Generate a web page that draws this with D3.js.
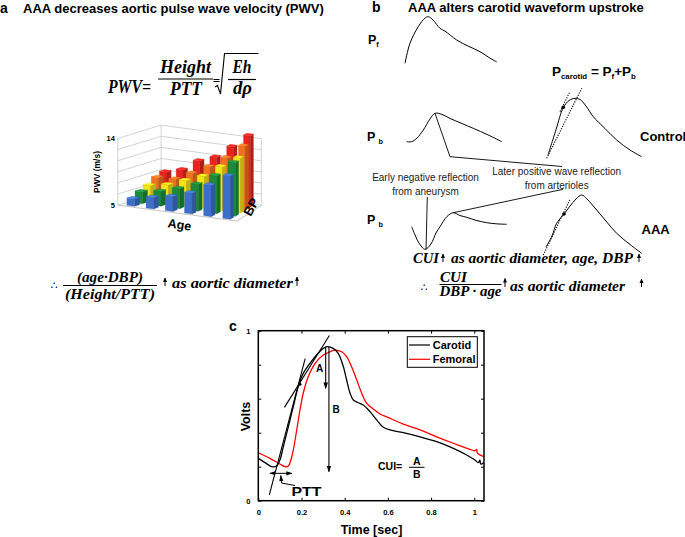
<!DOCTYPE html>
<html><head><meta charset="utf-8">
<script src="https://cdn.jsdelivr.net/npm/d3@7"></script>
<style>body{margin:0;background:#fff}svg{display:block}</style>
</head><body><svg id="fig" width="685" height="537"></svg>
<script>
// ---------------- DATA ----------------
// Panel c: carotid and femoral waveforms (time in s, volts)
const carotidTime  = [0,0.031,0.062,0.085,0.1,0.116,0.139,0.162,0.185,0.208,0.239,0.27,0.301,0.319,0.347,0.37,0.394,0.409,0.425,0.44,0.463,0.486,0.517,0.548,0.579,0.61,0.671,0.749,0.826,0.903,0.965,1.003,1.019,1.026,1.03,1.045];
const carotidVolts = [0.249,0.224,0.2,0.204,0.239,0.318,0.435,0.553,0.671,0.749,0.808,0.857,0.896,0.906,0.896,0.867,0.788,0.71,0.632,0.592,0.576,0.563,0.524,0.475,0.432,0.416,0.4,0.376,0.347,0.308,0.269,0.239,0.224,0.239,0.216,0.224];
const femoralTime  = [0,0.054,0.1,0.124,0.139,0.151,0.162,0.178,0.193,0.208,0.231,0.263,0.301,0.332,0.355,0.386,0.409,0.432,0.456,0.479,0.502,0.532,0.563,0.6,0.671,0.749,0.826,0.903,0.98,1.003,1.011,1.014,1.045];
const femoralVolts = [0.282,0.249,0.216,0.2,0.204,0.239,0.298,0.416,0.534,0.632,0.729,0.808,0.857,0.876,0.886,0.876,0.847,0.788,0.71,0.632,0.573,0.54,0.51,0.49,0.451,0.416,0.376,0.338,0.302,0.294,0.302,0.282,0.259];
const xTicks = [0,0.2,0.4,0.6,0.8,1];
const yTicks = [0,0.2,0.4,0.6,0.8,1];
const yTickLabels = ["0","","","","","1"];
const tangentTime  = [[0.051,0.217],[0.121,0.329]];
const tangentVolts = [[0.034,0.836],[0.549,0.972]];
const arrowA = {t:0.312, from:0.906, to:0.661};
const arrowB = {t:0.327, from:0.906, to:0.171};
const pttRange = [0.054,0.155], pttLevel = 0.161;

// Panel a: 3D bars, PWV (m/s) by age group (columns) and BP level (rows)
const ageGroups = [1,2,3,4,5,6];
const bpLevels = [1,2,3,4,5];
const pwvBP1 = [6.0,6.5,7.0,7.8,9.2,10.8];
const pwvBP2 = [6.6,7.0,7.7,8.6,10.1,12.2];
const pwvBP3 = [7.1,7.5,8.4,9.3,10.9,12.4];
const pwvBP4 = [7.8,7.9,9.0,10.2,11.7,13.6];
const pwvBP5 = [8.2,8.8,10.3,11.1,12.8,14.6];
const bpColors = ["#3d6fc8","#1b8a3c","#f3e31b","#f07122","#e6241d"];
const pwvGrid = [5,6.5,8,9.5,11,12.5,14];

// Panel b: schematic waveforms (normalised time, normalised amplitude)
const pfT = [0,0.054,0.145,0.217,0.253,0.304,0.38,0.435,0.562,0.685,0.815,0.924,0.997];
const pfA = [0,0.43,0.79,0.97,1.0,0.93,0.75,0.69,0.5,0.37,0.25,0.11,0.03];
const pbT = [0.007,0.059,0.115,0.18,0.25,0.302,0.375,0.458,0.583,0.701,0.854,0.997];
const pbA = [0,0,0.13,0.41,0.8,1.0,0.96,0.82,0.64,0.47,0.24,0];
const ctlT = [0.051,0.131,0.205,0.263,0.323,0.374,0.434,0.508,0.626,0.744,0.879,0.997];
const ctlA = [0.05,0.47,0.84,0.958,0.995,0.975,0.867,0.688,0.492,0.3,0.133,0.022];
const aaaPbT = [0.007,0.042,0.083,0.146,0.208,0.26,0.302,0.375,0.441,0.51,0.58,0.677,0.788,0.885,0.997];
const aaaPbA = [0.617,0.393,0.172,0,0.145,0.445,0.617,0.896,1.0,0.923,0.874,0.792,0.727,0.697,0.683];
const aaaT = [0.03,0.091,0.138,0.212,0.273,0.333,0.391,0.444,0.542,0.636,0.744,0.879,0.997];
const aaaA = [0.108,0.297,0.515,0.674,0.811,0.931,1.0,0.931,0.743,0.554,0.343,0.151,0];

// ---------------- HELPERS ----------------
const svg = d3.select("#fig");
svg.append("rect").attr("width",685).attr("height",537).attr("fill","#fff");
const SANS = "'Liberation Sans', Arial, Helvetica, sans-serif";
const SERIF = "'Liberation Serif', 'Times New Roman', 'DejaVu Serif', serif";
const defs = svg.append("defs");
defs.append("marker").attr("id","ah").attr("viewBox","0 0 10 10").attr("refX",9).attr("refY",5)
  .attr("markerWidth",6).attr("markerHeight",6).attr("orient","auto-start-reverse")
  .append("path").attr("d","M0,1.5 L10,5 L0,8.5 Z").attr("fill","#000");
defs.append("marker").attr("id","ahs").attr("viewBox","0 0 10 10").attr("refX",9).attr("refY",5)
  .attr("markerWidth",4.5).attr("markerHeight",4.5).attr("orient","auto")
  .append("path").attr("d","M0,0.5 L10,5 L0,9.5 Z").attr("fill","#000");

function T(x,y,s,o={}){
  const t = svg.append("text").attr("x",x).attr("y",y).text(s)
    .attr("font-family",o.family||SANS).attr("font-size",o.size||12)
    .attr("font-weight",o.weight||"normal").attr("font-style",o.style||"normal")
    .attr("text-anchor",o.anchor||"start").attr("fill",o.fill||"#000");
  if(o.len) t.attr("textLength",o.len).attr("lengthAdjust","spacingAndGlyphs");
  if(o.rotate!=null) t.attr("transform",`rotate(${o.rotate},${x},${y})`);
  return t;
}
function rich(x,y,parts,size,o={}){
  const t = svg.append("text").attr("x",x).attr("y",y).attr("font-family",o.family||SANS)
    .attr("font-weight",o.weight||"bold").attr("font-size",size);
  let sub=false;
  parts.forEach(([s,isSub])=>{
    const sp=t.append("tspan").text(s).attr("font-size",isSub?size*0.58:size);
    if(isSub&&!sub) sp.attr("dy",size*0.25);
    if(!isSub&&sub) sp.attr("dy",-size*0.25);
    sub=isSub;
  });
  return t;
}
function L(x1,y1,x2,y2,o={}){
  return svg.append("line").attr("x1",x1).attr("y1",y1).attr("x2",x2).attr("y2",y2)
    .attr("stroke",o.stroke||"#000").attr("stroke-width",o.w||1).attr("stroke-dasharray",o.dash||null);
}
function arrowUp(x,yb,yt){
  return svg.append("line").attr("x1",x).attr("y1",yb).attr("x2",x).attr("y2",yt)
    .attr("stroke","#000").attr("stroke-width",1).attr("marker-end","url(#ahs)");
}

// ---------------- PANEL A ----------------
T(0,13,"a",{size:14,weight:"bold"});
T(23,12.5,"AAA decreases aortic pulse wave velocity (PWV)",{size:13,weight:"bold"});
const fo = {family:SERIF,weight:"bold",style:"italic",size:19};
T(108,93,"PWV=",Object.assign({len:43},fo));
T(185.5,73,"Height",Object.assign({anchor:"middle",len:51},fo));
L(158,79,213,79,{w:1.2});
T(186,94.5,"PTT",Object.assign({anchor:"middle",len:32},fo));
T(216.5,85,"=",{family:SERIF,size:13,weight:"bold",anchor:"middle"});
svg.append("path").attr("d","M215,87 L217.5,85.5 L220.5,94 L224.5,53.5 L258.5,53.5")
  .attr("fill","none").attr("stroke","#000").attr("stroke-width",1.1);
T(242,73,"Eh",Object.assign({anchor:"middle",len:19},fo));
L(228,79.5,256,79.5,{w:1.2});
T(242.5,94,"d\u03c1",Object.assign({anchor:"middle",len:19},fo));

// 3D bar chart
const hScale = d3.scaleLinear().domain([5,14]).range([0,66.7]);
const uScale = d3.scaleLinear().domain([0,5]).range([0,95]);
function proj(u,w,h){
  const s = 1-0.031*w;
  const px = uScale(u)*s;
  return [133.3 + 8*w + px, 205 - 2.6*w + px*0.134 - hScale(h)];
}
const g3 = svg.append("g");
const u0=-0.55,u1=5.6,w0=-0.6,w1=4.6;
const gridC="#c8c8c8";
pwvGrid.forEach(v=>{
  const a=proj(u0,w0,v),b=proj(u0,w1,v),c=proj(u1,w1,v);
  g3.append("polyline").attr("points",[a,b,c].map(p=>p.join(",")).join(" "))
    .attr("fill","none").attr("stroke",gridC).attr("stroke-width",0.8);
});
[[u0,w0],[u0,w1],[u1,w1]].forEach(([u,w])=>{
  const a=proj(u,w,5),b=proj(u,w,14);
  g3.append("line").attr("x1",a[0]).attr("y1",a[1]).attr("x2",b[0]).attr("y2",b[1]).attr("stroke",gridC).attr("stroke-width",0.8);
});
{
  const a=proj(u0,w0,5),b=proj(u1,w0,5),c=proj(u1,w1,5);
  g3.append("polyline").attr("points",[a,b,c].map(p=>p.join(",")).join(" "))
    .attr("fill","none").attr("stroke","#bdbdbd").attr("stroke-width",0.9);
}
const pwvRows=[pwvBP1,pwvBP2,pwvBP3,pwvBP4,pwvBP5];
const hw=0.2, hd=0.32;
for(let j=bpLevels.length-1;j>=0;j--){
  ageGroups.forEach((ag,i)=>{
    const h=pwvRows[j][i], col=d3.color(bpColors[j]);
    const poly=(pts,fill)=>g3.append("polygon").attr("points",pts.map(p=>p.join(",")).join(" "))
      .attr("fill",fill).attr("stroke",d3.color(bpColors[j]).darker(0.4)).attr("stroke-width",0.3);
    poly([proj(i-hw,j-hd,5),proj(i+hw,j-hd,5),proj(i+hw,j-hd,h),proj(i-hw,j-hd,h)], col.formatHex());
    poly([proj(i+hw,j-hd,5),proj(i+hw,j+hd,5),proj(i+hw,j+hd,h),proj(i+hw,j-hd,h)], col.darker(0.7).formatHex());
    poly([proj(i-hw,j-hd,h),proj(i+hw,j-hd,h),proj(i+hw,j+hd,h),proj(i-hw,j+hd,h)], col.brighter(0.5).formatHex());
  });
}
{
  const p5=proj(u0,w0,5), p14=proj(u0,w0,14);
  T(p5[0]-3,p5[1]+3,"5",{size:7.5,weight:"bold",anchor:"end"});
  T(p14[0]-3,p14[1]+3,"14",{size:7.5,weight:"bold",anchor:"end"});
}
T(100,172,"PWV (m/s)",{size:8.5,weight:"bold",anchor:"middle",rotate:-90});
T(179,229,"Age",{size:12.5,weight:"bold",anchor:"middle",rotate:8});
T(255,209,"BP",{size:13,weight:"bold",anchor:"middle",rotate:-62});

// bottom formula panel a
const fb = {family:SERIF,weight:"bold",style:"italic",size:15.5};
T(54,289,"\u2234",{family:"'DejaVu Sans', sans-serif",size:11,anchor:"middle"});
T(110,282,"(age\u00b7DBP)",Object.assign({anchor:"middle",len:66},fb));
L(63,285.5,157,285.5,{w:1});
T(110,299,"(Height/PTT)",Object.assign({anchor:"middle",len:90},fb));
arrowUp(165,286,278);
T(172,288,"as aortic diameter",Object.assign({len:121},fb));
arrowUp(297,286,277);

// ---------------- PANEL B ----------------
T(372,12,"b",{size:14,weight:"bold"});
T(408,12,"AAA alters carotid waveform upstroke",{size:13,weight:"bold"});
rich(368,44,[["P",0],["f",1]],12.5);
rich(367,141,[["P ",0],["b",1]],12.5);
rich(367,224,[["P ",0],["b",1]],12.5);
rich(552,76,[["P",0],["carotid",1],[" = P",0],["f",1],["+P",0],["b",1]],13.5);
T(640,140.5,"Control",{size:13,weight:"bold"});
T(641.5,233.5,"AAA",{size:13,weight:"bold"});

function sketch(ts,as,box,o={}){
  const sx=d3.scaleLinear().domain([0,1]).range([box[0],box[1]]);
  const sy=d3.scaleLinear().domain([0,1]).range([box[2],box[3]]);
  const line=d3.line().x(d=>sx(d[0])).y(d=>sy(d[1])).curve(o.straight?d3.curveLinear:d3.curveCatmullRom.alpha(0.5));
  svg.append("path").attr("d",line(ts.map((t,i)=>[t,as[i]]))).attr("fill","none")
    .attr("stroke","#000").attr("stroke-width",o.w||1).attr("stroke-dasharray",o.dash||null);
  return {sx,sy};
}
const boxPf=[405,497,63.3,16.7], boxPb=[406,502,141.7,113.3], boxCtl=[543,642,158,98];
const boxAPb=[411,507,249.3,212.7], boxAAA=[543,642,253.3,195];
sketch(pfT,pfA,boxPf,{w:1});
const sPb=sketch(pbT,pbA,boxPb,{w:1});
const sCtl=sketch(ctlT,ctlA,boxCtl,{w:1});
sketch([0.037,0.391],[-0.005,1.162],boxCtl,{w:1.1,dash:"1.2,1.3",straight:true});
sketch([0.172,0.266],[0.772,1.088],boxCtl,{w:1.1,dash:"1.2,1.3",straight:true});
svg.append("circle").attr("cx",sCtl.sx(0.205)).attr("cy",sCtl.sy(0.845)).attr("r",1.8).attr("fill","#000");
const sAPb=sketch(aaaPbT,aaaPbA,boxAPb,{w:1});
const sAAA=sketch(aaaT,aaaA,boxAAA,{w:1});
sketch([0.003,0.273],[-0.03,0.926],boxAAA,{w:1.1,dash:"1.2,1.3",straight:true});
svg.append("circle").attr("cx",sAAA.sx(0.212)).attr("cy",sAAA.sy(0.674)).attr("r",1.8).attr("fill","#000");

// annotation leaders
svg.append("polyline").attr("points",`${sPb.sx(0.302)},${sPb.sy(1.0)} 450,156.7 562,166.5`)
  .attr("fill","none").attr("stroke","#000").attr("stroke-width",0.9);
L(427.3,197,sAPb.sx(0.146)+1,sAPb.sy(0),{w:0.9});
L(sAPb.sx(0.441),sAPb.sy(1.0),563,189.3,{w:0.9});
T(425.5,181,"Early negative reflection",{size:10,anchor:"middle",fill:"#222"});
T(425.5,195,"from aneurysm",{size:10,anchor:"middle",fill:"#222"});
T(556.7,175,"Later positive wave reflection",{size:10,anchor:"middle",fill:"#222"});
T(556.7,188.5,"from arterioles",{size:10,anchor:"middle",fill:"#222"});

// formulas panel b
const f2 = {family:SERIF,weight:"bold",style:"italic",size:15};
T(413,263,"CUI",Object.assign({len:26},f2));
arrowUp(443,262,254);
T(451,263,"as aortic diameter, age, DBP",Object.assign({len:182},f2));
arrowUp(639,262,254);
T(424,291,"\u2234",{family:"'DejaVu Sans', sans-serif",size:11,anchor:"middle"});
T(453.5,281.5,"CUI",Object.assign({anchor:"middle",len:27},f2));
L(439.5,284.5,501.5,284.5,{w:1});
T(470.5,296,"DBP \u00b7 age",Object.assign({anchor:"middle",len:62},f2));
arrowUp(505,287,278.5);
T(510,291,"as aortic diameter",Object.assign({len:115},f2));
arrowUp(641.5,287,279);

// ---------------- PANEL C ----------------
T(229,331,"c",{size:14,weight:"bold"});
const X0=258.3, X1=484, Y0=500.7, Y1=330.7;
const x = d3.scaleLinear().domain([0,1.045]).range([X0,X1]);
const y = d3.scaleLinear().domain([0,1]).range([Y0,Y1]);
const pc = svg.append("g");
pc.append("clipPath").attr("id","pclip").append("rect").attr("x",X0).attr("y",Y1).attr("width",X1-X0).attr("height",Y0-Y1);
const axStyle = g=>{ g.select(".domain").remove(); g.selectAll("text").attr("font-family",SANS).attr("font-weight","bold").attr("font-size",7.5).attr("fill","#000"); g.selectAll("line").attr("stroke","#000"); };
pc.append("g").attr("transform",`translate(0,${Y0})`).call(d3.axisBottom(x).tickValues(xTicks).tickSize(-3).tickPadding(9).tickFormat(d3.format("~g"))).call(axStyle);
pc.append("g").attr("transform",`translate(0,${Y1})`).call(d3.axisTop(x).tickValues(xTicks).tickSize(-3).tickFormat("")).call(axStyle);
pc.append("g").attr("transform",`translate(${X0},0)`).call(d3.axisLeft(y).tickValues(yTicks).tickSize(-3).tickPadding(8).tickFormat((d,i)=>yTickLabels[i])).call(axStyle);
pc.append("g").attr("transform",`translate(${X1},0)`).call(d3.axisRight(y).tickValues(yTicks).tickSize(-3).tickFormat("")).call(axStyle);

const wline = d3.line().x(d=>x(d[0])).y(d=>y(d[1])).curve(d3.curveCatmullRom.alpha(0.5));
const cl = pc.append("g").attr("clip-path","url(#pclip)");
cl.append("path").attr("d",wline(femoralTime.map((t,i)=>[t,femoralVolts[i]]))).attr("fill","none").attr("stroke","#ff0000").attr("stroke-width",1.3);
cl.append("path").attr("d",wline(carotidTime.map((t,i)=>[t,carotidVolts[i]]))).attr("fill","none").attr("stroke","#000").attr("stroke-width",1.3);
tangentTime.forEach((tt,k)=>{
  cl.append("line").attr("x1",x(tt[0])).attr("y1",y(tangentVolts[k][0])).attr("x2",x(tt[1])).attr("y2",y(tangentVolts[k][1]))
    .attr("stroke","#000").attr("stroke-width",1.1);
});
cl.append("circle").attr("cx",x(0.193)).attr("cy",y(0.685)).attr("r",1.5).attr("fill","#000");
[arrowA,arrowB].forEach(a=>{
  pc.append("line").attr("x1",x(a.t)).attr("y1",y(a.from)).attr("x2",x(a.t)).attr("y2",y(a.to))
    .attr("stroke","#000").attr("stroke-width",1.1).attr("marker-end","url(#ah)");
});
T(319.5,372,"A",{size:10,weight:"bold",anchor:"middle"});
T(336,413,"B",{size:10,weight:"bold",anchor:"middle"});
pc.append("line").attr("x1",x(pttRange[0])).attr("y1",y(pttLevel)).attr("x2",x(pttRange[1])).attr("y2",y(pttLevel))
  .attr("stroke","#000").attr("stroke-width",1).attr("marker-start","url(#ah)").attr("marker-end","url(#ah)");
svg.append("polyline").attr("points","281.5,483 280.8,475.5").attr("stroke","#000").attr("fill","none").attr("stroke-width",1).attr("marker-end","url(#ah)");
svg.append("polyline").attr("points","281.5,483 295,485.5").attr("stroke","#000").attr("fill","none").attr("stroke-width",1);
T(306.5,496,"PTT",{size:12,weight:"bold",anchor:"middle",len:30});
T(378,469.5,"CUI=",{size:10.5,weight:"bold"});
T(416.7,465,"A",{size:10.5,weight:"bold",anchor:"middle"});
L(409,467.3,424.5,467.3,{w:1});
T(416.7,477.5,"B",{size:10.5,weight:"bold",anchor:"middle"});

// legend
pc.append("rect").attr("x",407.3).attr("y",336.7).attr("width",70).attr("height",30.6).attr("fill","#fff").attr("stroke","#000").attr("stroke-width",1);
L(409,345,430,345,{w:1.2});
L(409,359.3,430,359.3,{w:1.2,stroke:"#ff0000"});
T(432.7,349,"Carotid",{size:11,weight:"bold"});
T(432.7,363.3,"Femoral",{size:11,weight:"bold"});

pc.append("rect").attr("x",X0).attr("y",Y1).attr("width",X1-X0).attr("height",Y0-Y1).attr("fill","none").attr("stroke","#000").attr("stroke-width",1.5);
T(371.5,533.5,"Time [sec]",{size:12.5,weight:"bold",anchor:"middle"});
T(249.5,416.5,"Volts",{size:12.5,weight:"bold",anchor:"middle",rotate:-90});
</script></body></html>
